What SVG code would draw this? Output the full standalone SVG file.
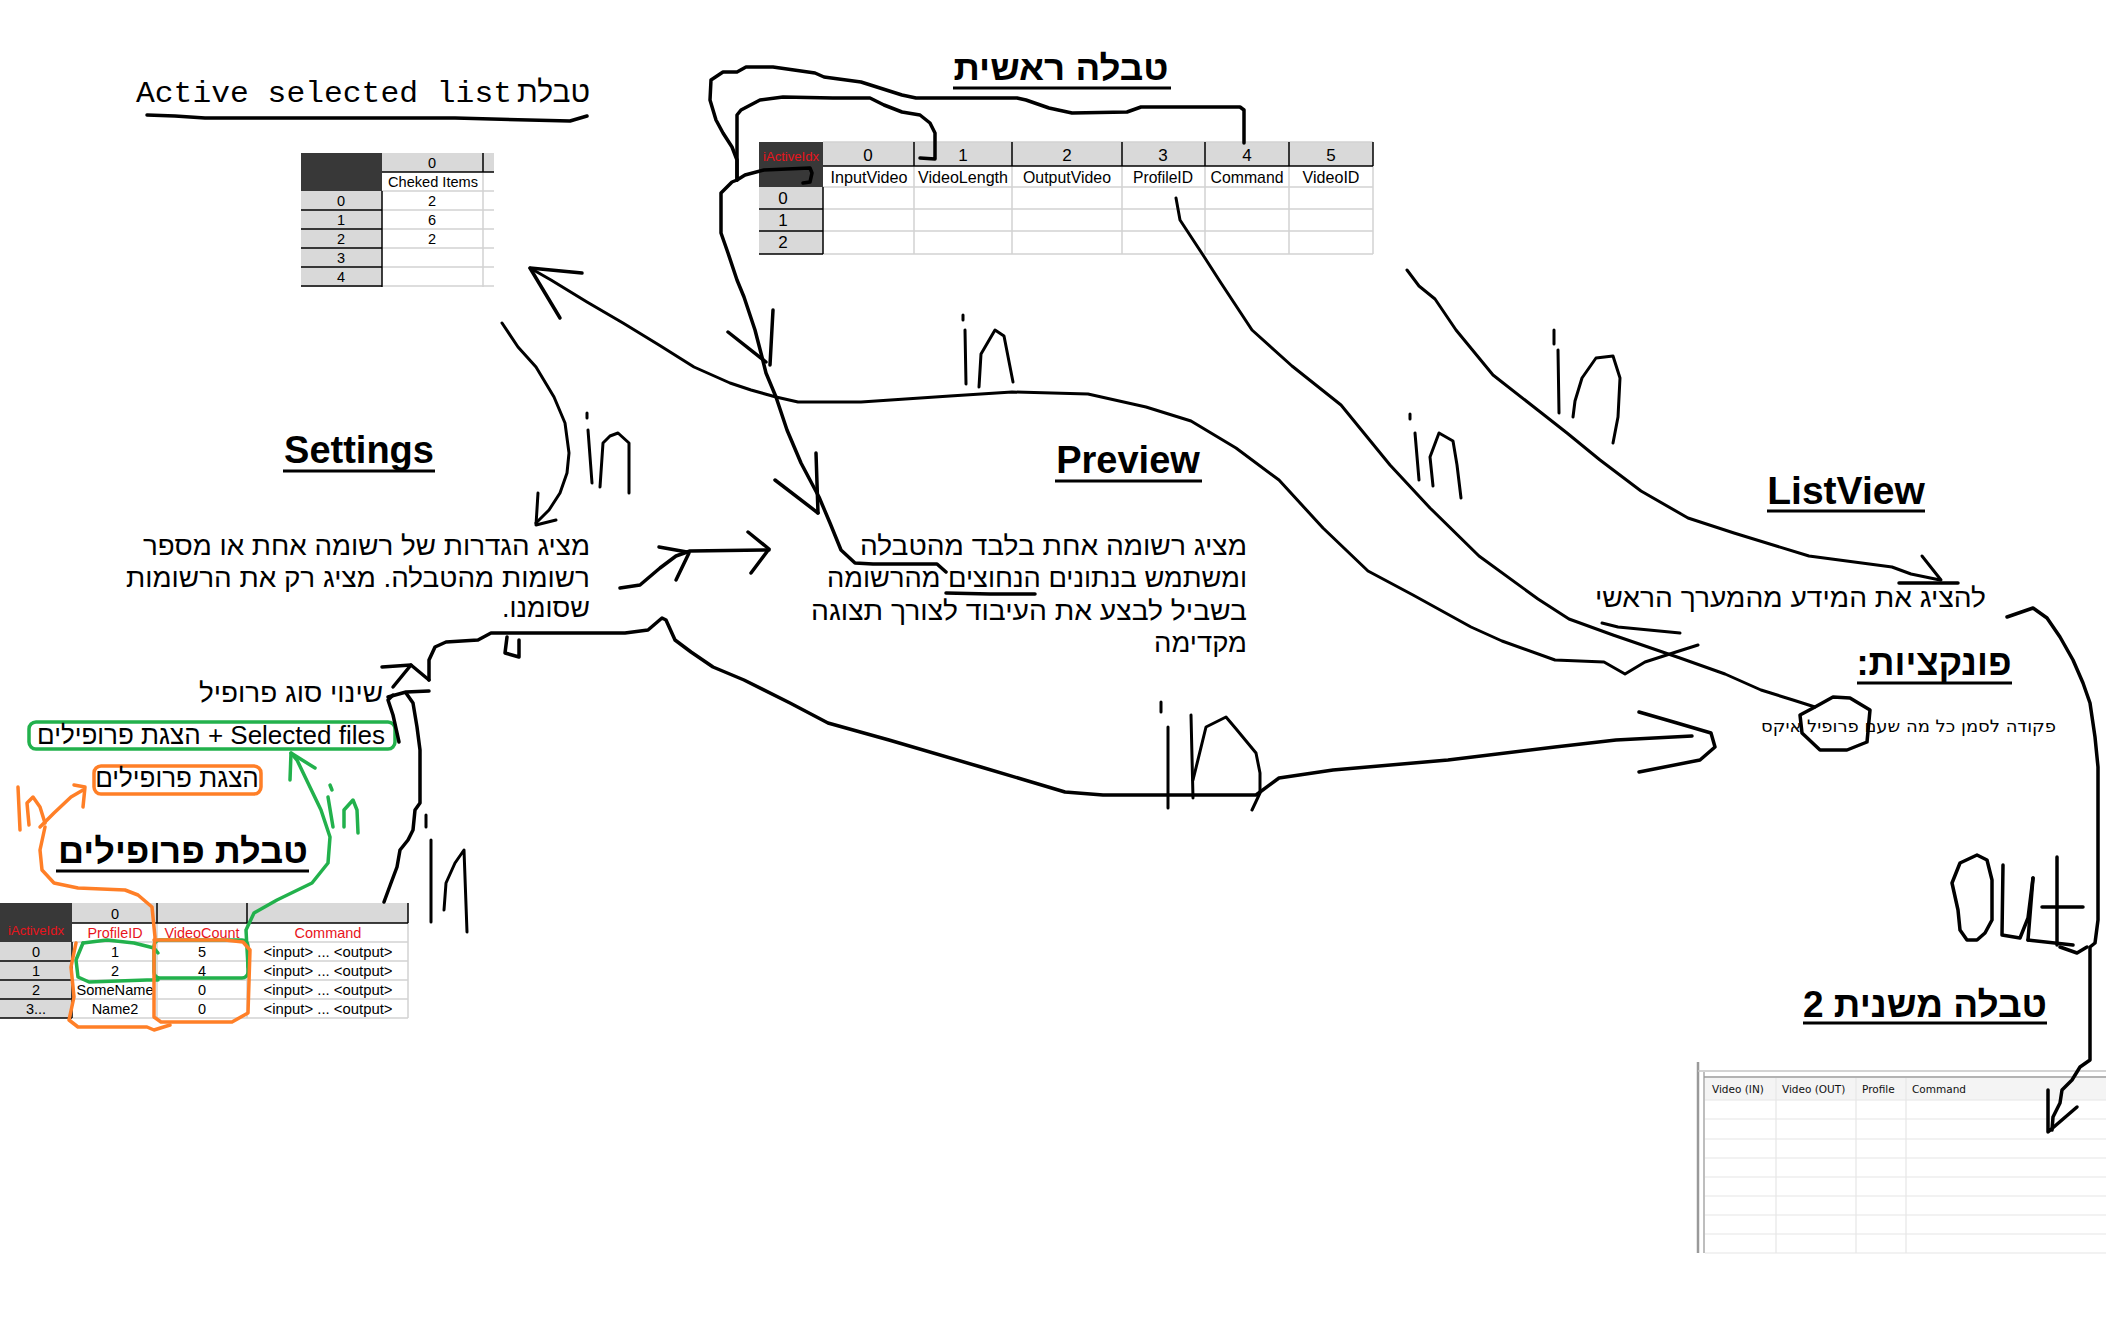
<svg xmlns="http://www.w3.org/2000/svg" width="2128" height="1336" viewBox="0 0 2128 1336">
<style>
.ink{fill:none;stroke:#000;stroke-width:3.5;stroke-linejoin:round;stroke-linecap:round}
.pen{fill:none;stroke:#000;stroke-width:3;stroke-linejoin:round;stroke-linecap:round}
.org{fill:none;stroke:#ff7f27;stroke-width:3.5;stroke-linejoin:round;stroke-linecap:round}
.grn{fill:none;stroke:#22b14c;stroke-width:3.5;stroke-linejoin:round;stroke-linecap:round}
.h{font-family:"Liberation Sans","DejaVu Sans",sans-serif;font-weight:bold;fill:#000}
.t{font-family:"Liberation Sans","DejaVu Sans",sans-serif;fill:#000}
.c{font-family:"Liberation Sans","DejaVu Sans",sans-serif;fill:#000;text-anchor:middle}
.red{fill:#e8141c}
.gray{fill:#d9d9d9}
.dark{fill:#383838}
.gl{stroke:#d2d2d2;stroke-width:1.5}
.bl{stroke:#000;stroke-width:1.5}
.ul{stroke:#000;stroke-width:3}
</style>
<rect width="2128" height="1336" fill="#fff"/>

<g id="active-title">
<text x="136" y="102" font-family="Liberation Mono,monospace" font-size="30" textLength="376" lengthAdjust="spacingAndGlyphs">Active selected list</text>
<text x="590" y="102" class="t" font-size="30" text-anchor="end">טבלת</text>
<polyline class="ink" points="147,115 175,116 205,118 455,118 570,121 587,116"/>
</g>

<g id="active-table">
<rect x="301" y="153" width="81" height="38" class="dark"/>
<rect x="382" y="153" width="112" height="19" class="gray"/>
<rect x="301" y="191" width="81" height="96" class="gray"/>
<g class="gl">
<line x1="382" y1="191" x2="494" y2="191"/><line x1="382" y1="210" x2="494" y2="210"/><line x1="382" y1="229" x2="494" y2="229"/><line x1="382" y1="248" x2="494" y2="248"/><line x1="382" y1="267" x2="494" y2="267"/><line x1="382" y1="286" x2="494" y2="286"/>
<line x1="483" y1="172" x2="483" y2="287"/>
</g>
<g class="bl">
<line x1="301" y1="210" x2="382" y2="210"/><line x1="301" y1="229" x2="382" y2="229"/><line x1="301" y1="248" x2="382" y2="248"/><line x1="301" y1="267" x2="382" y2="267"/><line x1="301" y1="286" x2="382" y2="286"/>
<line x1="382" y1="191" x2="382" y2="287"/><line x1="382" y1="172" x2="494" y2="172"/><line x1="483" y1="153" x2="483" y2="172"/>
</g>
<g class="c" font-size="14.5">
<text x="432" y="168">0</text>
<text x="433" y="187" textLength="90" lengthAdjust="spacingAndGlyphs">Cheked Items</text>
<text x="341" y="206">0</text><text x="341" y="225">1</text><text x="341" y="244">2</text><text x="341" y="263">3</text><text x="341" y="282">4</text>
<text x="432" y="206">2</text><text x="432" y="225">6</text><text x="432" y="244">2</text>
</g>
</g>

<g id="main-title">
<text x="1061" y="80" class="h" font-size="35" text-anchor="middle" textLength="215" lengthAdjust="spacingAndGlyphs">טבלה ראשית</text>
<line x1="953" y1="88" x2="1171" y2="88" class="ul"/>
</g>

<g id="main-table">
<rect x="759" y="142" width="64" height="45" class="dark"/>
<rect x="823" y="142" width="550" height="24" class="gray"/>
<rect x="759" y="187" width="64" height="67" class="gray"/>
<g class="gl">
<line x1="823" y1="187" x2="1373" y2="187"/><line x1="823" y1="209" x2="1373" y2="209"/><line x1="823" y1="231" x2="1373" y2="231"/><line x1="823" y1="254" x2="1373" y2="254"/>
<line x1="914" y1="166" x2="914" y2="254"/><line x1="1012" y1="166" x2="1012" y2="254"/><line x1="1122" y1="166" x2="1122" y2="254"/><line x1="1205" y1="166" x2="1205" y2="254"/><line x1="1289" y1="166" x2="1289" y2="254"/><line x1="1373" y1="166" x2="1373" y2="254"/>
<line x1="823" y1="142" x2="1373" y2="142"/>
</g>
<g class="bl">
<line x1="823" y1="166" x2="1373" y2="166"/>
<line x1="914" y1="142" x2="914" y2="166"/><line x1="1012" y1="142" x2="1012" y2="166"/><line x1="1122" y1="142" x2="1122" y2="166"/><line x1="1205" y1="142" x2="1205" y2="166"/><line x1="1289" y1="142" x2="1289" y2="166"/><line x1="1373" y1="142" x2="1373" y2="166"/>
<line x1="823" y1="187" x2="823" y2="254"/>
<line x1="759" y1="209" x2="823" y2="209"/><line x1="759" y1="231" x2="823" y2="231"/><line x1="759" y1="254" x2="823" y2="254"/>
</g>
<text x="791" y="161" class="c red" font-size="13" textLength="56" lengthAdjust="spacingAndGlyphs">iActiveIdx</text>
<g class="c" font-size="17">
<text x="868" y="161">0</text><text x="963" y="161">1</text><text x="1067" y="161">2</text><text x="1163" y="161">3</text><text x="1247" y="161">4</text><text x="1331" y="161">5</text>
<text x="869" y="183" textLength="77" lengthAdjust="spacingAndGlyphs">InputVideo</text>
<text x="963" y="183" textLength="90" lengthAdjust="spacingAndGlyphs">VideoLength</text>
<text x="1067" y="183" textLength="88" lengthAdjust="spacingAndGlyphs">OutputVideo</text>
<text x="1163" y="183" textLength="60" lengthAdjust="spacingAndGlyphs">ProfileID</text>
<text x="1247" y="183" textLength="73" lengthAdjust="spacingAndGlyphs">Command</text>
<text x="1331" y="183" textLength="57" lengthAdjust="spacingAndGlyphs">VideoID</text>
<text x="783" y="204">0</text><text x="783" y="226">1</text><text x="783" y="248">2</text>
</g>
</g>

<g id="settings">
<text x="359" y="463" class="h" font-size="38" text-anchor="middle">Settings</text>
<line x1="283" y1="471" x2="435" y2="471" class="ul"/>
<g class="t" font-size="27" direction="rtl" text-anchor="start">
<text x="590" y="555" textLength="447" lengthAdjust="spacingAndGlyphs">מציג הגדרות של רשומה אחת או מספר</text>
<text x="590" y="587" textLength="464" lengthAdjust="spacingAndGlyphs">רשומות מהטבלה. מציג רק את הרשומות</text>
<text x="590" y="617" textLength="88" lengthAdjust="spacingAndGlyphs">שסומנו.</text>
</g>
</g>

<g id="preview">
<text x="1128" y="473" class="h" font-size="38" text-anchor="middle">Preview</text>
<line x1="1055" y1="481" x2="1202" y2="481" class="ul"/>
<g class="t" font-size="27" direction="rtl" text-anchor="start">
<text x="1247" y="555" textLength="387" lengthAdjust="spacingAndGlyphs">מציג רשומה אחת בלבד מהטבלה</text>
<text x="1247" y="587" textLength="420" lengthAdjust="spacingAndGlyphs">ומשתמש בנתונים הנחוצים מהרשומה</text>
<text x="1247" y="620" textLength="436" lengthAdjust="spacingAndGlyphs">בשביל לבצע את העיבוד לצורך תצוגה</text>
<text x="1247" y="652" textLength="93" lengthAdjust="spacingAndGlyphs">מקדימה</text>
</g>
<polyline class="ink" points="946,593 990,594 1035,594"/>
</g>

<g id="listview">
<text x="1846" y="504" class="h" font-size="39" text-anchor="middle">ListView</text>
<line x1="1767" y1="511" x2="1925" y2="511" class="ul"/>
<text x="1986" y="607" class="t" font-size="27" direction="rtl" text-anchor="start" textLength="391" lengthAdjust="spacingAndGlyphs">להציג את המידע מהמערך הראשי</text>
</g>

<g id="functions">
<text x="1934" y="675" class="h" font-size="36" text-anchor="middle" direction="rtl" textLength="155" lengthAdjust="spacingAndGlyphs">פונקציות:</text>
<line x1="1857" y1="683" x2="2012" y2="683" class="ul"/>
<text x="2056" y="732" font-family="DejaVu Sans,sans-serif" font-size="17" direction="rtl" text-anchor="start" textLength="295" lengthAdjust="spacingAndGlyphs">פקודה לסמן כל מה שעם פרופיל איקס</text>
</g>

<g id="profiles-labels">
<text x="383" y="702" class="t" font-size="27" direction="rtl" text-anchor="start" textLength="184" lengthAdjust="spacingAndGlyphs">שינוי סוג פרופיל</text>
<rect x="29" y="722" width="366" height="27" rx="7" class="grn"/>
<text x="211" y="744" class="t" font-size="26" text-anchor="middle">הצגת פרופילים + Selected files</text>
<rect x="94" y="766" width="167" height="28" rx="7" class="org"/>
<text x="177" y="787" class="t" font-size="26" text-anchor="middle">הצגת פרופילים</text>
<text x="183" y="863" class="h" font-size="35" text-anchor="middle" textLength="250" lengthAdjust="spacingAndGlyphs">טבלת פרופילים</text>
<line x1="56" y1="871" x2="309" y2="871" class="ul"/>
</g>

<g id="profiles-table">
<rect x="0" y="903" width="72" height="39" class="dark"/>
<rect x="72" y="903" width="336" height="20" class="gray"/>
<rect x="0" y="942" width="72" height="76" class="gray"/>
<g class="gl">
<line x1="72" y1="942" x2="408" y2="942"/><line x1="72" y1="961" x2="408" y2="961"/><line x1="72" y1="980" x2="408" y2="980"/><line x1="72" y1="999" x2="408" y2="999"/><line x1="72" y1="1018" x2="408" y2="1018"/>
<line x1="157" y1="923" x2="157" y2="1018"/><line x1="247" y1="923" x2="247" y2="1018"/><line x1="408" y1="923" x2="408" y2="1018"/>
</g>
<g class="bl">
<line x1="72" y1="923" x2="408" y2="923"/><line x1="157" y1="903" x2="157" y2="923"/><line x1="247" y1="903" x2="247" y2="923"/><line x1="408" y1="903" x2="408" y2="923"/>
<line x1="72" y1="942" x2="72" y2="1018"/>
<line x1="0" y1="961" x2="72" y2="961"/><line x1="0" y1="980" x2="72" y2="980"/><line x1="0" y1="999" x2="72" y2="999"/><line x1="0" y1="1018" x2="72" y2="1018"/>
</g>
<text x="36" y="935" class="c red" font-size="13" textLength="56" lengthAdjust="spacingAndGlyphs">iActiveIdx</text>
<g class="c" font-size="14.5">
<text x="115" y="919">0</text>
<text x="115" y="938" class="red" textLength="55" lengthAdjust="spacingAndGlyphs">ProfileID</text>
<text x="202" y="938" class="red" textLength="75" lengthAdjust="spacingAndGlyphs">VideoCount</text>
<text x="328" y="938" class="red">Command</text>
<text x="36" y="957">0</text><text x="36" y="976">1</text><text x="36" y="995">2</text><text x="36" y="1014">3...</text>
<text x="115" y="957">1</text><text x="115" y="976">2</text><text x="115" y="995" textLength="77" lengthAdjust="spacingAndGlyphs">SomeName</text><text x="115" y="1014">Name2</text>
<text x="202" y="957">5</text><text x="202" y="976">4</text><text x="202" y="995">0</text><text x="202" y="1014">0</text>
<text x="328" y="957" textLength="129" lengthAdjust="spacingAndGlyphs">&lt;input&gt; ... &lt;output&gt;</text>
<text x="328" y="976" textLength="129" lengthAdjust="spacingAndGlyphs">&lt;input&gt; ... &lt;output&gt;</text>
<text x="328" y="995" textLength="129" lengthAdjust="spacingAndGlyphs">&lt;input&gt; ... &lt;output&gt;</text>
<text x="328" y="1014" textLength="129" lengthAdjust="spacingAndGlyphs">&lt;input&gt; ... &lt;output&gt;</text>
</g>
</g>

<g id="table2-title">
<text x="1925" y="1017" class="h" font-size="36" text-anchor="middle" textLength="244" lengthAdjust="spacingAndGlyphs">טבלה משנית 2</text>
<line x1="1803" y1="1023" x2="2047" y2="1023" class="ul"/>
</g>

<g id="table2">
<rect x="1705" y="1078" width="401" height="22" fill="#f4f4f4"/>
<line x1="1698" y1="1062" x2="1698" y2="1253" stroke="#9a9a9a" stroke-width="2.5"/>
<line x1="1704" y1="1072" x2="1704" y2="1253" stroke="#a8a8a8" stroke-width="1.5"/>
<line x1="1698" y1="1071" x2="2106" y2="1071" stroke="#c4c4c4" stroke-width="1.5"/>
<line x1="1704" y1="1077" x2="2106" y2="1077" stroke="#9a9a9a" stroke-width="1.5"/>
<g stroke="#e6e6e6" stroke-width="1.2">
<line x1="1705" y1="1100" x2="2106" y2="1100"/><line x1="1705" y1="1119" x2="2106" y2="1119"/><line x1="1705" y1="1139" x2="2106" y2="1139"/><line x1="1705" y1="1158" x2="2106" y2="1158"/><line x1="1705" y1="1177" x2="2106" y2="1177"/><line x1="1705" y1="1196" x2="2106" y2="1196"/><line x1="1705" y1="1215" x2="2106" y2="1215"/><line x1="1705" y1="1234" x2="2106" y2="1234"/><line x1="1705" y1="1253" x2="2106" y2="1253"/>
<line x1="1776" y1="1078" x2="1776" y2="1253"/><line x1="1856" y1="1078" x2="1856" y2="1253"/><line x1="1906" y1="1078" x2="1906" y2="1253"/>
</g>
<g font-family="DejaVu Sans,sans-serif" font-size="10.5" fill="#111">
<text x="1712" y="1093">Video (IN)</text>
<text x="1782" y="1093">Video (OUT)</text>
<text x="1862" y="1093">Profile</text>
<text x="1912" y="1093">Command</text>
</g>
</g>

<g id="connectors">
<polyline class="ink" points="1244,143 1244,110 1240,107 1141,107 1127,112 1072,113 1049,108 1026,100 1017,98 916,98 902,95 861,82 824,77 815,73 773,67 746,67 737,72 723,72 711,80 710,100 716,120 723,133 732,147 737,160 737,180 732,182 721,193 721,233 728,253 737,280 744,297 755,330 762,357 766,373 776,397 787,430 801,463 819,497 830,523 841,550 855,563 873,564 937,564 946,572"/>
<polyline class="ink" points="773,310 770,365"/>
<polyline class="ink" points="728,332 766,362"/>
<polyline class="ink" points="816,453 818,513"/>
<polyline class="ink" points="775,480 818,513"/>
<polyline class="ink" points="920,158 935,159 935,133 930,123 920,115 902,112 884,105 870,98 833,98 783,97 760,100 741,110 737,115 737,180"/>
<polyline class="ink" points="737,180 745,175 764,170 810,168 812,173 810,182 803,183"/>
<polyline class="ink" points="582,273 530,268 560,318"/>
<polyline class="pen" points="530,268 551,280 587,302 623,323 659,345 694,367 730,383 751,390 776,397 798,402 861,402 950,396 1012,392 1088,394 1146,407 1191,421 1236,448 1279,480 1323,528 1368,571 1413,595 1471,627 1502,641 1555,660 1604,662 1625,674 1645,662 1676,652 1698,645"/>
<polyline class="pen" points="1602,623 1618,627 1680,633"/>
<polyline class="pen" points="1176,198 1180,220 1203,255 1221,283 1252,330 1292,366 1341,405 1390,465 1430,508 1479,556 1538,599 1569,619 1613,635 1680,658 1725,674 1761,690 1793,700 1815,707"/>
<polygon class="ink" points="1815,707 1833,697 1850,698 1870,710 1867,742 1847,750 1820,750 1802,733 1800,715"/>
<polyline class="pen" points="1407,270 1419,286 1435,299 1456,330 1493,375 1539,411 1567,433 1600,460 1641,491 1688,518 1734,533 1809,556 1892,567 1911,574 1940,580"/>
<polyline class="pen" points="1922,556 1941,580"/>
<polyline class="ink" points="1899,583 1958,583"/>
<polyline class="ink" points="2007,617 2033,608 2047,618 2060,637 2073,660 2083,683 2090,703 2095,737 2098,767 2098,920 2095,943 2090,947 2090,1060 2080,1067 2072,1080 2062,1090 2060,1103 2053,1117 2052,1130"/>
<polyline class="ink" points="2048,1090 2048,1132 2077,1107"/>
<polyline class="pen" points="502,323 518,347 536,367 554,397 565,423 569,453 567,473 560,493 549,510 536,523"/>
<polyline class="pen" points="538,493 536,525 556,520"/>
<polyline class="ink" points="620,588 640,585 660,568 676,556 690,551 769,550"/>
<polyline class="ink" points="659,547 687,552"/>
<polyline class="ink" points="689,553 676,580"/>
<polyline class="ink" points="748,532 769,549 751,573"/>
<polyline class="ink" points="382,667 411,665 429,680"/>
<polyline class="ink" points="393,687 411,665"/>
<polyline class="ink" points="429,680 429,660 435,647 446,642 478,640 491,633 518,633 625,633 648,630 662,618 666,620 675,640 691,652 713,667 744,680 790,703 828,723 889,740 981,767 1065,792 1103,795 1256,795 1279,778 1333,770 1448,760 1555,747 1616,740 1692,736"/>
<polyline class="ink" points="1639,712 1677,723 1711,733 1715,747 1700,760 1639,772"/>
<polyline class="ink" points="507,637 505,653 519,657 519,640"/>
<polyline class="ink" points="388,697 406,692 429,691"/>
<polyline class="ink" points="393,695 388,700 393,715 399,742"/>
<polyline class="ink" points="406,693 413,703 417,727 420,750 420,803 415,810 413,830 408,840 400,850 397,867 391,883 384,902"/>
<polyline class="grn" points="83,943 107,940 134,943 154,948 158,953"/>
<polyline class="grn" points="83,943 76,960 78,977 89,982 147,980 158,980"/>
<rect x="154" y="940" width="94" height="38" rx="6" class="grn"/>
<polyline class="grn" points="248,967 246,930 254,913 277,900 312,883 328,863 330,837 321,810 308,783 297,760 291,753"/>
<polyline class="grn" points="290,780 291,753 315,768"/>
<polyline class="org" points="40,827 54,813 71,797 83,790"/>
<polyline class="org" points="74,785 85,787 83,807"/>
<polyline class="org" points="45,827 40,850 42,870 54,883 78,888 125,890 138,895 152,907 155,937 154,950 154,1017 161,1022 232,1022 248,1013 250,950 243,942 225,940 154,940"/>
<polyline class="org" points="76,943 71,967 74,997 69,1020 78,1027 147,1027 154,1030 170,1025"/>
</g>

<g id="in-labels">
<g class="pen">
<line x1="587" y1="413" x2="587" y2="418"/><polyline points="588,430 592,483"/><polyline points="600,487 603,443 610,436 618,433 629,443 629,493"/>
<line x1="963" y1="315" x2="963" y2="320"/><polyline points="965,330 966,384"/><polyline points="979,387 981,354 995,330 1004,336 1013,382"/>
<line x1="1161" y1="702" x2="1161" y2="712"/><polyline points="1168,727 1168,808"/><polyline points="1191,715 1193,798"/><polyline points="1193,780 1206,727 1226,717 1237,730 1256,753 1260,773 1260,793 1252,810"/>
<line x1="426" y1="815" x2="426" y2="827"/><polyline points="431,840 431,922"/><polyline points="444,910 446,883 455,863 464,850 467,932"/>
<line x1="1410" y1="414" x2="1410" y2="419"/><polyline points="1415,433 1419,480"/><polyline points="1433,486 1430,457 1439,433 1453,441 1457,465 1461,498"/>
<line x1="1554" y1="330" x2="1554" y2="344"/><polyline points="1558,350 1559,413"/><polyline points="1573,417 1575,401 1582,378 1596,358 1613,356 1620,378 1618,417 1613,443"/>
</g>
<g class="grn" stroke-width="3">
<line x1="330" y1="785" x2="332" y2="790"/><polyline points="328,797 333,827"/><polyline points="344,827 344,810 353,800 357,810 358,833"/>
</g>
<g class="org" stroke-width="3">
<polyline points="18,787 20,830"/><polyline points="29,825 27,803 33,797 40,807 45,823"/>
</g>
<g class="ink">
<polyline points="1960,863 1977,855 1987,860 1992,880 1992,920 1985,933 1977,940 1967,940 1960,930 1958,910 1952,883 1960,863"/>
<polyline points="2003,865 2002,935 2020,938 2028,918 2033,878"/><polyline points="2033,878 2028,940"/>
<polyline points="2057,857 2057,945"/><polyline points="2042,907 2083,907"/>
<polyline points="2028,940 2073,945"/><polyline points="2060,947 2077,953 2087,947"/>
</g>
</g>
</svg>
